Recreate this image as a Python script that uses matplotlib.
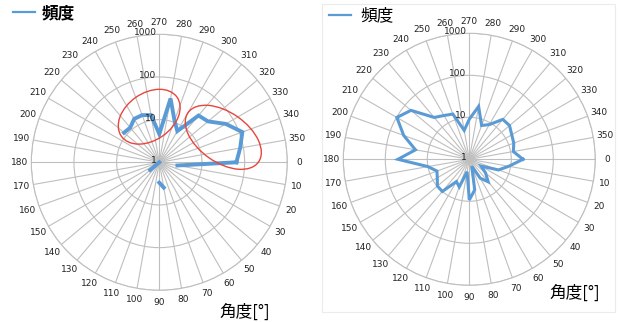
import numpy as np
import matplotlib
matplotlib.use('Agg')
import matplotlib.pyplot as plt
from matplotlib.patches import Ellipse, Rectangle
from matplotlib.transforms import ScaledTranslation

plt.rcParams['font.family'] = ['Noto Sans CJK JP', 'DejaVu Sans']

nan = np.nan
angles_deg = list(range(0, 360, 10))
angle_labels = [str(a) for a in angles_deg]
r_ticks = [1, 10, 100, 1000]
r_tick_labels = ['1', '10', '100', '1000']

left_freq = [64, 2.7, nan, nan, nan, nan, nan, nan, 4.0, 3.0,
             nan, nan, nan, 1.0, 1.9, nan, nan, nan, nan, nan,
             nan, nan, 12, 11.5, 15, 15, 13.3, 4.6, 33, 11,
             7, 27, 31, 63, 118, 84]
right_freq = [19, 9, 5.5, 2.1, 3.2, 5, 3.3, 1.5, 5.5, 9.3,
              2, 5, 4.1, 10, 9.8, 7.6, 6.6, 10, 50, 20,
              46, 98, 65, 20, 16, 14, 5, 9, 19, 7.2,
              9, 17.4, 17.8, 14.7, 13.4, 11.6]

series_name = '頻度'
axis_title = '角度[°]'
line_color = '#5B9BD5'
grid_color = '#BFBFBF'

W, H = 619, 322
fig = plt.figure(figsize=(W / 100, H / 100), dpi=100)


def make_polar(cx, cy, R):
    rect = [(cx - R) / W, (H - cy - R) / H, 2 * R / W, 2 * R / H]
    ax = fig.add_axes(rect, projection='polar')
    ax.set_theta_zero_location('E')
    ax.set_theta_direction(-1)
    ax.set_rscale('log')
    ax.set_rlim(1, 1000)
    ax.set_rticks(r_ticks[1:])
    ax.set_yticklabels([])
    ax.set_thetagrids(angles_deg, labels=angle_labels, fontsize=6.5,
                      family=['DejaVu Sans'])
    ax.tick_params(axis='x', pad=1.5, length=0, colors='#222222')
    ax.grid(True, color=grid_color, lw=0.8)
    ax.spines['polar'].set_color(grid_color)
    ax.spines['polar'].set_linewidth(0.8)
    ax.set_facecolor('none')
    off = ScaledTranslation(-2 / 72, 1 / 72, fig.dpi_scale_trans)
    for rv, lab in zip(r_ticks, r_tick_labels):
        ax.text(np.deg2rad(270), rv, lab, ha='right', va='center',
                fontsize=6.5, family=['DejaVu Sans'], color='#222222',
                transform=ax.transData + off)
    return ax


def draw(ax, vals, lw):
    th = np.deg2rad(angles_deg + [angles_deg[0] + 360])
    v = list(vals) + [vals[0]]
    line, = ax.plot(th, v, color=line_color, lw=lw, label=series_name,
                    solid_joinstyle='miter')
    return line


ax1 = make_polar(159.3, 162.3, 128)
draw(ax1, left_freq, 2.8)
ax2 = make_polar(469.3, 159.3, 126)
draw(ax2, right_freq, 2.2)

leg1 = ax1.legend(loc='center left', bbox_to_anchor=(13 / W, 1 - 13 / H),
                  bbox_transform=fig.transFigure, frameon=False, borderpad=0,
                  borderaxespad=0, handlelength=1.3, handletextpad=0.4,
                  prop={'size': 12, 'weight': 'bold'})
leg2 = ax2.legend(loc='center left', bbox_to_anchor=(329 / W, 1 - 16 / H),
                  bbox_transform=fig.transFigure, frameon=False, borderpad=0,
                  borderaxespad=0, handlelength=1.3, handletextpad=0.6,
                  prop={'size': 12})
for leg in (leg1, leg2):
    for ln in leg.get_lines():
        ln.set_linewidth(1.6)

fig.text(245 / W, 1 - 312 / H, axis_title, ha='center', va='center',
         fontsize=12)
fig.text(575 / W, 1 - 293 / H, axis_title, ha='center', va='center',
         fontsize=12)

# overlay for annotation ellipses and right panel frame
ov = fig.add_axes([0, 0, 1, 1], zorder=5)
ov.set_xlim(0, W)
ov.set_ylim(0, H)
ov.axis('off')
ov.patch.set_alpha(0)
ov.add_patch(Ellipse((149.2, H - 116.7), 68, 47, angle=35, fill=False,
                     edgecolor='#E8453C', lw=1.0))
ov.add_patch(Ellipse((223.3, H - 137.3), 86, 50, angle=-35, fill=False,
                     edgecolor='#E8453C', lw=1.0))
ov.add_patch(Rectangle((322, H - 312), 293, 308, fill=False,
                       edgecolor='#EBEBEB', lw=0.8))

fig.savefig('out.png', dpi=100)
